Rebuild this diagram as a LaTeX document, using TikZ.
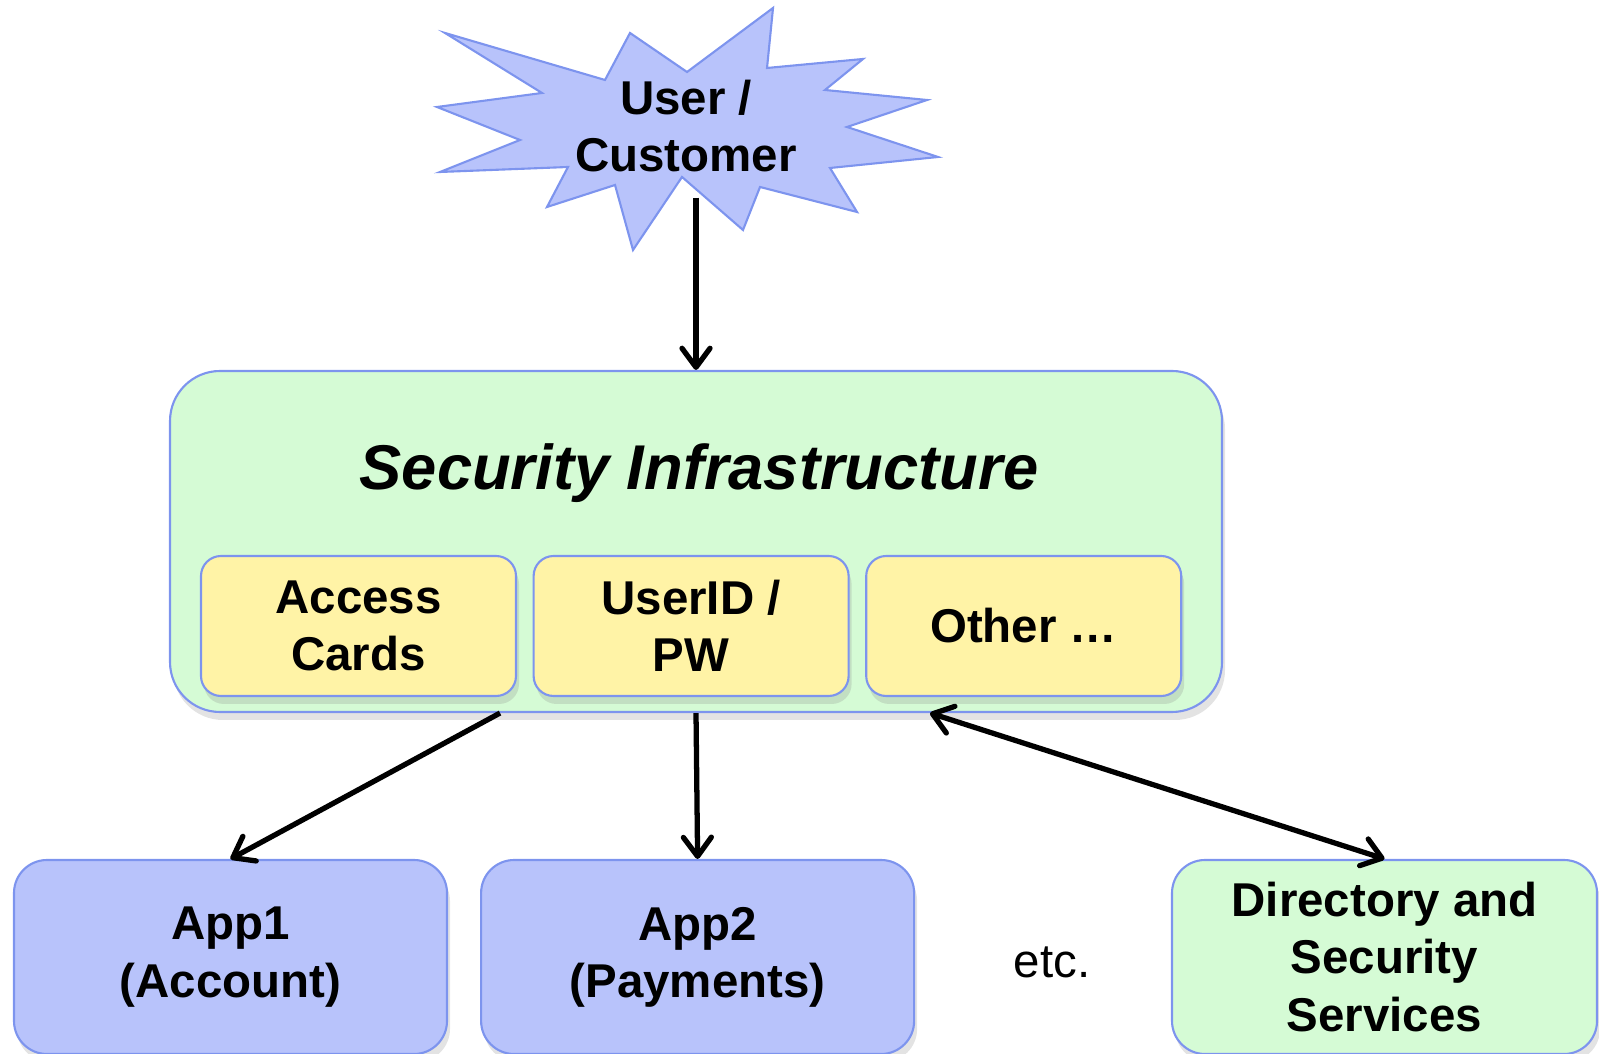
\documentclass[tikz,border=0pt]{standalone}
\usepackage{fontspec}
\setmainfont{Liberation Sans}
\usetikzlibrary{arrows.meta,positioning,shadows}

\definecolor{burstblue}{RGB}{184,195,251}
\definecolor{edgeblue}{RGB}{125,148,238}
\definecolor{infragreen}{RGB}{213,251,213}
\definecolor{cardyellow}{RGB}{255,243,166}

\begin{document}
\begin{tikzpicture}[
  x=0.1mm, y=-0.1mm,
  font=\fontsize{13.5}{16.3}\selectfont\bfseries,
  node distance=1.55mm,
  boxshadow/.style={drop shadow={opacity=.22, shadow xshift=.3mm, shadow yshift=-.8mm}},
  burst/.style={draw=edgeblue, line width=.6pt, fill=burstblue},
  infra/.style={draw=edgeblue, line width=.6pt, fill=infragreen, rounded corners=5mm, boxshadow},
  card/.style={draw=edgeblue, line width=.6pt, fill=cardyellow, rounded corners=2mm, align=center, minimum width=31.5mm, minimum height=14mm, boxshadow},
  app/.style={draw=edgeblue, line width=.6pt, fill=burstblue, rounded corners=3.3mm, align=center, minimum width=43.3mm, minimum height=19.4mm, boxshadow},
  service/.style={app, fill=infragreen, minimum width=42.5mm},
  flow/.style={-{Straight Barb[length=1.9mm, width=2.8mm, round]}, line width=1.5pt},
  both/.style={flow, {Straight Barb[length=1.9mm, width=2.8mm, round]}-{Straight Barb[length=1.9mm, width=2.8mm, round]}}
]
  \useasboundingbox (0,0) rectangle (1599,1054);

  % user burst
  \draw[burst] (445,33) -- (605,80) -- (630,33) -- (687,72) -- (773,8) -- (767,68)
    -- (863,59) -- (825,90) -- (927,100) -- (847,127) -- (938,157) -- (830,168)
    -- (857,212) -- (760,187) -- (743,230) -- (682,177) -- (633,250) -- (615,185)
    -- (547,207) -- (568,167) -- (440,172) -- (520,140) -- (437,107) -- (542,93) -- cycle;
  \node[align=center, minimum height=14.2mm, inner sep=0pt] (user) at (686,126) {User /\\Customer};

  % security infrastructure
  \node[infra, minimum width=105.2mm, minimum height=34.1mm] (sec) at (696,541.5) {};
  \node[font=\fontsize{18}{22}\selectfont\bfseries\itshape] (title) at (699,473) {Security Infrastructure};
  \node[card] (cards) at (358.5,626) {Access\\Cards};
  \node[card, right=of cards] (pw) {UserID /\\PW};
  \node[card, right=of pw] (other) {Other …};

  % applications
  \node[app] (app1) at (230.5,957) {App1\\(Account)};
  \node[app, right=3.2mm of app1] (app2) {App2\\(Payments)};
  \node[font=\fontsize{13.5}{16}\selectfont] (etc) at (1052,962) {etc.};
  \node[service] (dir) at (1384.5,957) {Directory and\\Security\\Services};

  \draw[flow] (user.south -| sec.north) -- (sec.north);
  \draw[flow] ([xshift=-19.6mm]sec.south) -- (app1.north);
  \draw[flow] (sec.south) -- (app2.north);
  \draw[both] ([xshift=23.4mm]sec.south) -- (dir.north);
\end{tikzpicture}
\end{document}
